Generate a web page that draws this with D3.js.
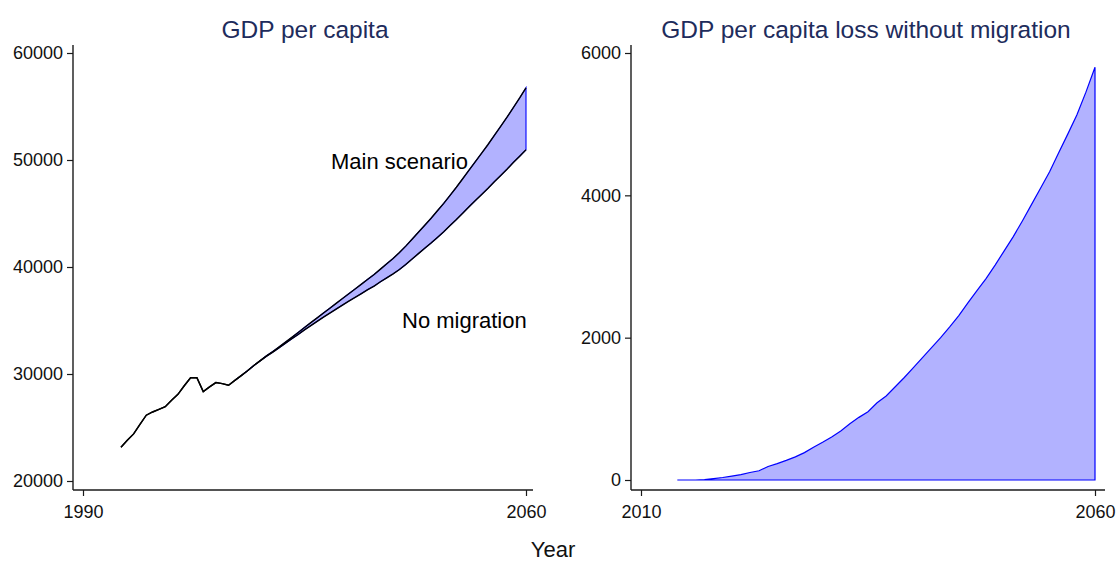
<!DOCTYPE html>
<html>
<head>
<meta charset="utf-8">
<script src="https://cdn.jsdelivr.net/npm/d3@7"></script>
<style>
  body { margin: 0; background: #fff; }
  svg { display: block; }
  text { font-family: "Liberation Sans", Arial, sans-serif; }
</style>
</head>
<body>
<svg id="chart" width="1116" height="561"></svg>
<script>
// Annual GDP per capita, main scenario, 1996-2060
const mainYears = d3.range(1996, 2061);
const gdpMain = [
  23150, 23800, 24400, 25300, 26150, 26450, 26700, 26950, 27550, 28100,
  28900, 29650, 29650, 28350, 28800, 29200, 29100, 28950, 29400, 29850,
  30300, 30800, 31250, 31700, 32100, 32530, 32980, 33420, 33880, 34350,
  34800, 35250, 35700, 36150, 36600, 37050, 37500, 37950, 38400, 38850,
  39300, 39800, 40300, 40800, 41350, 41950, 42600, 43250, 43900, 44550,
  45250, 45950, 46700, 47450, 48250, 49050, 49850, 50650, 51450, 52300,
  53150, 54000, 54900, 55800, 56750
];

// Projection period with and without migration, 2014-2060
const scenarioYears = d3.range(2014, 2061);
const gdpNoMigration = [
  29400, 29850, 30300, 30795, 31230, 31665, 32045, 32455, 32875, 33290,
  33690, 34120, 34525, 34925, 35315, 35690, 36070, 36445, 36810, 37160,
  37520, 37890, 38215, 38620, 38990, 39360, 39770, 40230, 40740, 41250,
  41750, 42240, 42760, 43290, 43870, 44430, 45030, 45630, 46210, 46780,
  47350, 47970, 48550, 49140, 49770, 50350, 50950
];
const gdpLoss = [
  0, 0, 0, 5, 20, 35, 55, 75, 105, 130,
  190, 230, 275, 325, 385, 460, 530, 605, 690, 790,
  880, 960, 1085, 1180, 1310, 1440, 1580, 1720, 1860, 2000,
  2150, 2310, 2490, 2660, 2830, 3020, 3220, 3420, 3640, 3870,
  4100, 4330, 4600, 4860, 5130, 5450, 5800
];

const leftXTicks = [1990, 2060];
const leftYTicks = [20000, 30000, 40000, 50000, 60000];
const rightXTicks = [2010, 2060];
const rightYTicks = [0, 2000, 4000, 6000];

const titles = ["GDP per capita", "GDP per capita loss without migration"];
const seriesLabels = ["Main scenario", "No migration"];

const FILL = "#b2b2ff";
const EDGE = "#0000ff";
const TITLE_COLOR = "#1e2c5c";
const AXIS_COLOR = "#1a1a1a";

const svg = d3.select("#chart");

function drawAxes(g, x, y, xTicks, yTicks, frame) {
  const yAxis = d3.axisLeft(y).tickValues(yTicks).tickSize(6).tickPadding(4)
    .tickFormat(d3.format("d"));
  const yg = g.append("g").attr("transform", `translate(${frame.left},0)`).call(yAxis);
  const xAxis = d3.axisBottom(x).tickValues(xTicks).tickSize(6).tickPadding(9)
    .tickFormat(d3.format("d"));
  const xg = g.append("g").attr("transform", `translate(0,${frame.bottom})`).call(xAxis);
  [yg, xg].forEach(a => {
    a.select(".domain").remove();
    a.selectAll(".tick line").attr("stroke", AXIS_COLOR).attr("stroke-width", 1.2);
    a.selectAll(".tick text").attr("fill", "#111").style("font-size", "18px");
  });
  g.append("line")
    .attr("x1", frame.left).attr("x2", frame.left)
    .attr("y1", frame.top).attr("y2", frame.bottom)
    .attr("stroke", AXIS_COLOR).attr("stroke-width", 1.4);
  g.append("line")
    .attr("x1", frame.left).attr("x2", frame.right)
    .attr("y1", frame.bottom).attr("y2", frame.bottom)
    .attr("stroke", AXIS_COLOR).attr("stroke-width", 1.4);
}

// ---- Left panel: GDP per capita ----
{
  const g = svg.append("g");
  const x = d3.scaleLinear().domain([1990, 2060]).range([83, 526]);
  const y = d3.scaleLinear().domain([20000, 60000]).range([481, 53]);
  drawAxes(g, x, y, leftXTicks, leftYTicks, { left: 73, right: 533, top: 45, bottom: 490 });

  const mainByYear = new Map(mainYears.map((yr, i) => [yr, gdpMain[i]]));
  const band = scenarioYears.map((yr, i) => ({ year: yr, hi: mainByYear.get(yr), lo: gdpNoMigration[i] }));

  // gap between the two scenarios
  const area = d3.area().x(d => x(d.year)).y0(d => y(d.lo)).y1(d => y(d.hi));
  g.append("path").attr("d", area(band) + "Z")
    .attr("fill", FILL).attr("stroke", EDGE).attr("stroke-width", 1.1);

  const line = d3.line().x(d => x(d[0])).y(d => y(d[1]));
  const history = mainYears.filter(yr => yr < 2014).map((yr, i) => [yr, gdpMain[i]]);
  const noMigrationPath = history.concat(scenarioYears.map((yr, i) => [yr, gdpNoMigration[i]]));
  g.append("path")
    .attr("d", line(noMigrationPath))
    .attr("fill", "none").attr("stroke", "#000").attr("stroke-width", 1.4);
  g.append("path")
    .attr("d", line(mainYears.map((yr, i) => [yr, gdpMain[i]])))
    .attr("fill", "none").attr("stroke", "#000").attr("stroke-width", 1.4);

  g.append("text").attr("x", 305).attr("y", 38).attr("text-anchor", "middle")
    .attr("fill", TITLE_COLOR).style("font-size", "24.5px").text(titles[0]);
  g.append("text").attr("x", 331).attr("y", 169)
    .attr("fill", "#000").style("font-size", "22px").text(seriesLabels[0]);
  g.append("text").attr("x", 402).attr("y", 328)
    .attr("fill", "#000").style("font-size", "22px").text(seriesLabels[1]);
}

// ---- Right panel: loss without migration ----
{
  const g = svg.append("g");
  const x = d3.scaleLinear().domain([2010, 2060]).range([641, 1095]);
  const y = d3.scaleLinear().domain([0, 6000]).range([480, 53]);
  drawAxes(g, x, y, rightXTicks, rightYTicks, { left: 631, right: 1105, top: 45, bottom: 490 });

  const area = d3.area().x((d, i) => x(scenarioYears[i])).y0(y(0)).y1(d => y(d));
  g.append("path").attr("d", area(gdpLoss) + "Z")
    .attr("fill", FILL).attr("stroke", EDGE).attr("stroke-width", 1.2);

  g.append("text").attr("x", 866).attr("y", 38).attr("text-anchor", "middle")
    .attr("fill", TITLE_COLOR).style("font-size", "24.5px").text(titles[1]);
}

// shared x-axis title
svg.append("text").attr("x", 553).attr("y", 557).attr("text-anchor", "middle")
  .attr("fill", "#111").style("font-size", "22px").text("Year");
</script>
</body>
</html>
